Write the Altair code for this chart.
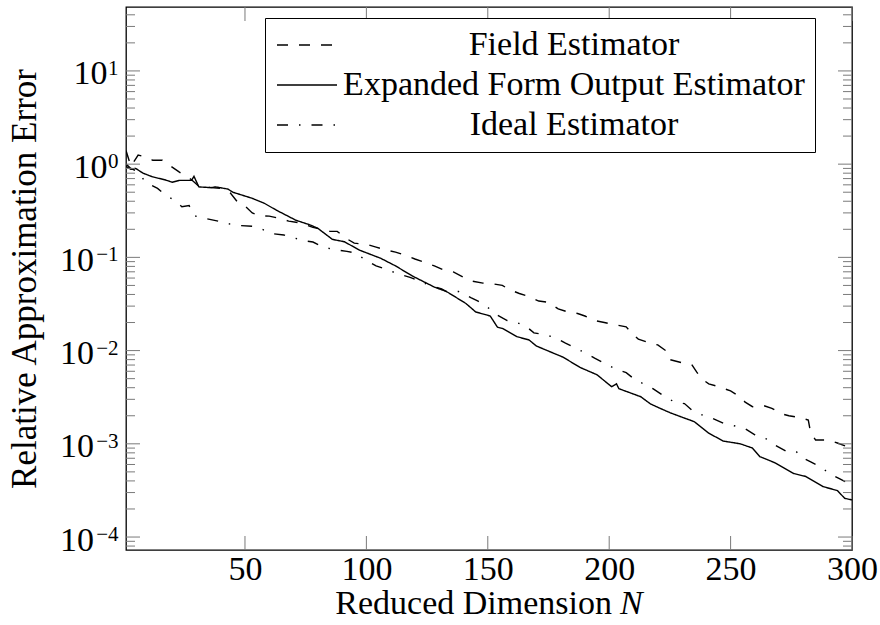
import altair as alt
import pandas as pd

# ---------------- data ----------------
N_field = [1, 3, 6, 9, 12, 16, 20, 23, 28, 31, 36, 40, 44, 47, 50, 53, 56, 60, 64, 68,
           73, 78, 85, 88, 92, 95, 100, 104, 108, 112, 117, 120, 125, 128, 132, 136, 140,
           143, 148, 152, 156, 159, 163, 167, 171, 175, 179, 183, 187, 190, 194, 198, 202,
           207, 210, 212, 217, 220, 224, 225, 230, 234, 236, 238, 241, 245, 250, 253, 256,
           259, 263, 267, 271, 274, 279, 282, 283, 285, 290, 294, 298, 300]
field = [1.4, 0.95, 1.25, 1.2, 1.1, 1.1, 0.93, 0.82, 0.68, 0.58, 0.56, 0.55, 0.49, 0.39,
         0.355, 0.3, 0.28, 0.277, 0.263, 0.245, 0.234, 0.21, 0.19, 0.19, 0.158, 0.142,
         0.138, 0.129, 0.12, 0.114, 0.103, 0.096, 0.087, 0.081, 0.073, 0.0695, 0.061,
         0.056, 0.053, 0.052, 0.05, 0.045, 0.041, 0.038, 0.034, 0.033, 0.028, 0.026,
         0.025, 0.0235, 0.021, 0.02, 0.019, 0.018, 0.0147, 0.0133, 0.012, 0.0115, 0.0097,
         0.008, 0.0074, 0.0071, 0.0059, 0.005, 0.0044, 0.0041, 0.0037, 0.0033, 0.0028,
         0.0025, 0.0026, 0.0024, 0.0021, 0.002, 0.0019, 0.0018, 0.0013, 0.0011, 0.0011,
         0.00102, 0.00093, 0.00089]

N_expanded = [1, 3, 5, 8, 12, 17, 20, 23, 28, 29, 31, 36, 38, 43, 45, 53, 58, 63, 71, 77,
              80, 86, 91, 97, 106, 112, 119, 128, 133, 141, 145, 151, 154, 156, 162, 167,
              170, 181, 188, 195, 201, 203, 204, 213, 217, 221, 225, 230, 235, 241, 247,
              254, 259, 262, 268, 276, 281, 288, 294, 297, 300]
expanded = [0.95, 0.88, 0.9, 0.8, 0.73, 0.68, 0.64, 0.67, 0.67, 0.74, 0.57, 0.56, 0.57,
            0.54, 0.5, 0.43, 0.38, 0.32, 0.25, 0.222, 0.205, 0.156, 0.147, 0.12, 0.0975,
            0.081, 0.063, 0.048, 0.043, 0.032, 0.026, 0.0235, 0.0178, 0.0173, 0.0141,
            0.013, 0.0112, 0.0085, 0.0066, 0.0055, 0.0041, 0.0044, 0.0039, 0.0032,
            0.00268, 0.0024, 0.00216, 0.00193, 0.00173, 0.0013, 0.00107, 0.001, 0.0009,
            0.00073, 0.00063, 0.00048, 0.000446, 0.000348, 0.000315, 0.00026, 0.00025]

N_ideal = [1, 3, 5, 7, 9, 14, 17, 21, 24, 27, 29, 34, 39, 43, 47, 53, 56, 61, 66, 70, 75,
           78, 82, 86, 92, 95, 100, 104, 108, 112, 118, 121, 126, 131, 133, 138, 143, 146,
           150, 154, 158, 162, 166, 169, 174, 178, 182, 186, 191, 194, 199, 203, 207, 211,
           215, 218, 223, 227, 231, 234, 239, 242, 247, 252, 256, 260, 265, 268, 273, 277,
           279, 283, 288, 290, 295, 300]
ideal = [1.0, 0.9, 0.85, 0.76, 0.64, 0.55, 0.47, 0.41, 0.35, 0.36, 0.28, 0.26, 0.245,
         0.23, 0.22, 0.216, 0.206, 0.18, 0.174, 0.162, 0.15, 0.146, 0.13, 0.122, 0.116,
         0.112, 0.093, 0.081, 0.075, 0.068, 0.061, 0.057, 0.05, 0.046, 0.043, 0.043,
         0.037, 0.034, 0.029, 0.024, 0.021, 0.02, 0.018, 0.0155, 0.0147, 0.0137, 0.012,
         0.0107, 0.0092, 0.0083, 0.0071, 0.0063, 0.0058, 0.0048, 0.0043, 0.0039, 0.0032,
         0.0028, 0.0027, 0.0023, 0.002, 0.0019, 0.00166, 0.00155, 0.00145, 0.00125,
         0.00112, 0.00098, 0.00083, 0.00083, 0.00072, 0.00064, 0.00055, 0.00049,
         0.00042, 0.00036]

series_names = ["Field Estimator", "Expanded Form Output Estimator", "Ideal Estimator"]
dash_patterns = [[11, 11], [1, 0], [11, 11, 1.5, 11]]

x_ticks = [50, 100, 150, 200, 250, 300]
y_decades = [10, 1, 0.1, 0.01, 0.001, 0.0001]
y_exponents = ["1", "0", "\u22121", "\u22122", "\u22123", "\u22124"]
y_minor = [8e-5, 9e-5,
           2e-4, 3e-4, 4e-4, 5e-4, 6e-4, 7e-4, 8e-4, 9e-4,
           2e-3, 3e-3, 4e-3, 5e-3, 6e-3, 7e-3, 8e-3, 9e-3,
           2e-2, 3e-2, 4e-2, 5e-2, 6e-2, 7e-2, 8e-2, 9e-2,
           0.2, 0.3, 0.4, 0.5, 0.6, 0.7, 0.8, 0.9,
           2, 3, 4, 5, 6, 7, 8, 9,
           20, 30, 40]

x_title = "Reduced Dimension"
x_title_var = "N"
y_title = "Relative Approximation Error"

# ---------------- chart ----------------
W, H = 726, 543
FONT = "Liberation Serif"
TICK_COLOR = "#7a7a7a"

df = pd.concat([
    pd.DataFrame({"N": N_field, "value": field, "series": series_names[0]}),
    pd.DataFrame({"N": N_expanded, "value": expanded, "series": series_names[1]}),
    pd.DataFrame({"N": N_ideal, "value": ideal, "series": series_names[2]}),
], ignore_index=True)

xs = alt.Scale(domain=[1, 300], nice=False, zero=False)
ys = alt.Scale(type="log", domain=[7.26e-5, 48.5], nice=False)

x_axis = alt.Axis(
    values=x_ticks, title=None, ticks=False, domain=False, grid=False,
    labelFont=FONT, labelFontSize=34, labelColor="black", labelPadding=29,
    labelBaseline="alphabetic", labelFlush=False, labelOverlap=False)
y_axis = alt.Axis(
    title=y_title, labels=False, ticks=False, domain=False, grid=False,
    titleFont=FONT, titleFontSize=35, titleFontWeight="normal", titleColor="black",
    titleX=-91, titleY=H / 2, titleBaseline="alphabetic", titleAngle=270)

lines = alt.Chart(df).mark_line(strokeWidth=1.4, color="black", clip=True).encode(
    x=alt.X("N:Q", scale=xs, axis=x_axis),
    y=alt.Y("value:Q", scale=ys, axis=y_axis),
    strokeDash=alt.StrokeDash("series:N", scale=alt.Scale(domain=series_names, range=dash_patterns),
        legend=alt.Legend(title=None, orient="none", legendX=139, legendY=11, padding=10,
                          strokeColor="black", fillColor="white",
                          labelFont=FONT, labelFontSize=34, labelColor="black",
                          labelAlign="center", labelOffset=250, labelLimit=1000,
                          symbolType="M-2,0H2", symbolSize=900, symbolStrokeWidth=1.4,
                          symbolStrokeColor="black", symbolOffset=15, rowPadding=6)),
    order="N:Q",
)

ymaj = pd.DataFrame({"v": y_decades, "exp": y_exponents})
ymin = pd.DataFrame({"v": y_minor})
xmaj = pd.DataFrame({"N": x_ticks})


def yrule(data, x0, x1):
    return alt.Chart(data).mark_rule(color=TICK_COLOR, strokeWidth=1).encode(
        y=alt.Y("v:Q", scale=ys, axis=y_axis), x=alt.value(x0), x2=alt.value(x1))


def xrule(y0, y1):
    return alt.Chart(xmaj).mark_rule(color=TICK_COLOR, strokeWidth=1).encode(
        x=alt.X("N:Q", scale=xs, axis=x_axis), y=alt.value(y0), y2=alt.value(y1))


ticks = [
    yrule(ymaj, 0, 14), yrule(ymaj, W - 14, W),
    yrule(ymin, 0, 9), yrule(ymin, W - 9, W),
    xrule(H - 14, H), xrule(0, 14),
]

base_pos = alt.Chart(ymaj).transform_filter(alt.datum.v >= 1).mark_text(
    font=FONT, fontSize=34, align="right", baseline="alphabetic", dy=13.5, color="black"
).encode(y=alt.Y("v:Q", scale=ys, axis=y_axis), x=alt.value(-18.5), text=alt.value("10"))
base_neg = alt.Chart(ymaj).transform_filter(alt.datum.v < 1).mark_text(
    font=FONT, fontSize=34, align="right", baseline="alphabetic", dy=13.5, color="black"
).encode(y=alt.Y("v:Q", scale=ys, axis=y_axis), x=alt.value(-32), text=alt.value("10"))
expo = alt.Chart(ymaj).mark_text(
    font=FONT, fontSize=21, align="right", baseline="alphabetic", dy=4, color="black"
).encode(y=alt.Y("v:Q", scale=ys, axis=y_axis), x=alt.value(-7.5), text="exp:N")

xt1 = alt.Chart(pd.DataFrame({"t": [x_title]})).mark_text(
    font=FONT, fontSize=34, align="right", baseline="alphabetic", color="black"
).encode(x=alt.value(486), y=alt.value(607), text="t:N")
xt2 = alt.Chart(pd.DataFrame({"t": [x_title_var]})).mark_text(
    font=FONT, fontSize=34, fontStyle="italic", align="left", baseline="alphabetic", color="black"
).encode(x=alt.value(494), y=alt.value(607), text="t:N")

chart = alt.layer(lines, *ticks, base_pos, base_neg, expo, xt1, xt2).properties(
    width=W, height=H,
    autosize=alt.AutoSizeParams(type="none"),
    padding={"left": 126, "top": 7, "right": 28, "bottom": 75},
    background="white",
).configure_view(stroke="black", strokeWidth=1.3)

chart.save("out.html", embed_options={"renderer": "svg", "actions": False})
